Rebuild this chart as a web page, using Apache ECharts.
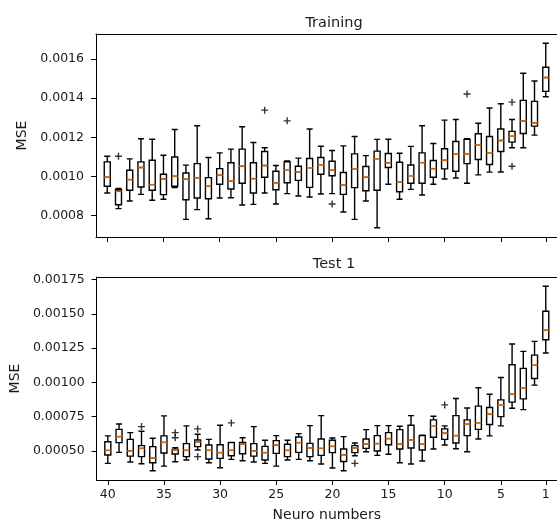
<!DOCTYPE html>
<html>
<head>
<meta charset="utf-8">
<script src="https://cdn.jsdelivr.net/npm/echarts@6/dist/echarts.min.js"></script>
<style>
  html, body { margin: 0; padding: 0; background: #fff; }
  #chart { width: 557px; height: 523px; }
</style>
</head>
<body>
<div id="chart"></div>
<script>
// Number of neurons per run, plotted from 40 down to 1
const neuronCounts = [40, 39, 38, 37, 36, 35, 34, 33, 32, 31, 30, 29, 28, 27, 26, 25, 24, 23, 22, 21,
                      20, 19, 18, 17, 16, 15, 14, 13, 12, 11, 10, 9, 8, 7, 6, 5, 4, 3, 2, 1];
const xTickLabels = [40, 35, 30, 25, 20, 15, 10, 5, 1];

// Training MSE: [low whisker, Q1, median, Q3, high whisker] for each neuron count
const trainBoxes = [
  [0.000914, 0.000949, 0.000995, 0.001074, 0.001103],
  [0.000834, 0.000854, 0.000923, 0.000931, 0.000937],
  [0.000873, 0.000928, 0.000983, 0.001031, 0.001089],
  [0.000907, 0.000945, 0.001045, 0.001074, 0.001192],
  [0.000877, 0.000928, 0.000957, 0.001082, 0.001190],
  [0.000882, 0.000906, 0.000986, 0.001010, 0.001108],
  [0.000942, 0.000949, 0.001000, 0.001099, 0.001240],
  [0.000779, 0.000880, 0.000985, 0.001017, 0.001057],
  [0.000829, 0.000889, 0.000991, 0.001065, 0.001259],
  [0.000782, 0.000885, 0.000949, 0.000993, 0.001096],
  [0.000889, 0.000959, 0.001005, 0.001039, 0.001120],
  [0.000890, 0.000935, 0.000976, 0.001069, 0.001139],
  [0.000853, 0.000964, 0.001051, 0.001139, 0.001254],
  [0.000856, 0.000914, 0.000988, 0.001069, 0.001173],
  [0.000914, 0.000995, 0.001055, 0.001127, 0.001146],
  [0.000858, 0.000931, 0.000967, 0.001026, 0.001055],
  [0.000911, 0.000967, 0.001033, 0.001074, 0.001079],
  [0.000899, 0.000979, 0.001022, 0.001051, 0.001093],
  [0.000894, 0.000943, 0.001043, 0.001091, 0.001242],
  [0.000909, 0.001010, 0.001057, 0.001096, 0.001154],
  [0.000911, 0.001003, 0.001031, 0.001077, 0.001132],
  [0.000817, 0.000907, 0.000954, 0.001019, 0.001156],
  [0.000779, 0.000942, 0.001038, 0.001115, 0.001204],
  [0.000873, 0.000926, 0.000995, 0.001050, 0.001106],
  [0.000736, 0.000928, 0.001089, 0.001129, 0.001189],
  [0.000959, 0.001045, 0.001069, 0.001117, 0.001190],
  [0.000882, 0.000921, 0.000971, 0.001072, 0.001118],
  [0.000933, 0.000964, 0.001002, 0.001058, 0.001153],
  [0.000904, 0.000964, 0.001070, 0.001120, 0.001259],
  [0.000959, 0.000995, 0.001039, 0.001081, 0.001168],
  [0.000986, 0.001038, 0.001082, 0.001141, 0.001288],
  [0.000991, 0.001026, 0.001113, 0.001178, 0.001291],
  [0.000964, 0.001065, 0.001113, 0.001189, 0.001192],
  [0.001007, 0.001086, 0.001161, 0.001218, 0.001272],
  [0.001021, 0.001060, 0.001120, 0.001204, 0.001350],
  [0.001022, 0.001127, 0.001183, 0.001242, 0.001372],
  [0.001146, 0.001175, 0.001206, 0.001230, 0.001291],
  [0.001146, 0.001219, 0.001283, 0.001389, 0.001528],
  [0.001211, 0.001257, 0.001274, 0.001384, 0.001488],
  [0.001408, 0.001435, 0.001506, 0.001559, 0.001682]
];
// Training outliers: [neuron count, MSE]
const trainOutliers = [
  [39, 0.001103], [26, 0.001339], [24, 0.001284], [20, 0.000858],
  [8, 0.001422], [4, 0.001380], [4, 0.001051]
];

// Test 1 MSE: [low whisker, Q1, median, Q3, high whisker] for each neuron count
const testBoxes = [
  [0.000410, 0.000471, 0.000505, 0.000568, 0.000610],
  [0.000490, 0.000561, 0.000605, 0.000658, 0.000697],
  [0.000420, 0.000463, 0.000500, 0.000585, 0.000634],
  [0.000407, 0.000459, 0.000519, 0.000539, 0.000644],
  [0.000356, 0.000415, 0.000449, 0.000532, 0.000593],
  [0.000390, 0.000485, 0.000563, 0.000610, 0.000756],
  [0.000422, 0.000478, 0.000507, 0.000512, 0.000524],
  [0.000434, 0.000459, 0.000505, 0.000554, 0.000683],
  [0.000507, 0.000532, 0.000568, 0.000580, 0.000622],
  [0.000415, 0.000442, 0.000505, 0.000544, 0.000585],
  [0.000378, 0.000446, 0.000488, 0.000546, 0.000688],
  [0.000439, 0.000466, 0.000505, 0.000561, 0.000563],
  [0.000429, 0.000480, 0.000551, 0.000563, 0.000597],
  [0.000420, 0.000463, 0.000500, 0.000554, 0.000678],
  [0.000410, 0.000434, 0.000488, 0.000534, 0.000578],
  [0.000390, 0.000483, 0.000544, 0.000576, 0.000612],
  [0.000434, 0.000459, 0.000505, 0.000549, 0.000578],
  [0.000439, 0.000490, 0.000561, 0.000602, 0.000627],
  [0.000429, 0.000459, 0.000522, 0.000556, 0.000685],
  [0.000405, 0.000468, 0.000519, 0.000588, 0.000758],
  [0.000376, 0.000488, 0.000534, 0.000578, 0.000595],
  [0.000356, 0.000424, 0.000473, 0.000515, 0.000605],
  [0.000466, 0.000488, 0.000522, 0.000539, 0.000558],
  [0.000495, 0.000519, 0.000551, 0.000588, 0.000656],
  [0.000468, 0.000500, 0.000554, 0.000612, 0.000685],
  [0.000476, 0.000546, 0.000590, 0.000634, 0.000685],
  [0.000415, 0.000515, 0.000549, 0.000656, 0.000680],
  [0.000405, 0.000522, 0.000580, 0.000688, 0.000758],
  [0.000427, 0.000507, 0.000549, 0.000612, 0.000615],
  [0.000515, 0.000600, 0.000683, 0.000727, 0.000753],
  [0.000544, 0.000585, 0.000629, 0.000661, 0.000683],
  [0.000517, 0.000558, 0.000612, 0.000758, 0.000883],
  [0.000495, 0.000612, 0.000695, 0.000727, 0.000814],
  [0.000588, 0.000658, 0.000705, 0.000827, 0.000961],
  [0.000610, 0.000693, 0.000768, 0.000817, 0.000914],
  [0.000683, 0.000751, 0.000836, 0.000873, 0.001036],
  [0.000812, 0.000856, 0.000914, 0.001129, 0.001280],
  [0.000802, 0.000880, 0.000958, 0.001102, 0.001226],
  [0.000980, 0.001029, 0.001126, 0.001199, 0.001299],
  [0.001214, 0.001311, 0.001380, 0.001519, 0.001701]
];
// Test 1 outliers: [neuron count, MSE]
const testOutliers = [
  [37, 0.000678], [34, 0.000634], [34, 0.000597], [32, 0.000661],
  [32, 0.000459], [29, 0.000705], [18, 0.000410], [10, 0.000836]
];

const trainYTicks = [0.0008, 0.0010, 0.0012, 0.0014, 0.0016];
const testYTicks = [0.0005, 0.00075, 0.0010, 0.00125, 0.0015, 0.00175];

// One empty slot on each side of the neuron range keeps a margin at both ends
const categories = ['41'].concat(neuronCounts.map(String), ['0']);
const EMPTY = ['-', '-', '-', '-', '-'];

function boxSeriesData(boxes) {
  return [EMPTY].concat(boxes, [EMPTY]);
}
function medianData(boxes) {
  return neuronCounts.map((n, i) => [String(n), boxes[i][2]]);
}
function outlierData(list) {
  return list.map(([n, v]) => [String(n), v]);
}
// 5% padding around all whiskers and outliers
function paddedExtent(boxes, outliers) {
  const vals = boxes.flat().concat(outliers.map(o => o[1]));
  const lo = Math.min(...vals), hi = Math.max(...vals);
  const pad = (hi - lo) * 0.05;
  return [lo - pad, hi + pad];
}

const FONT = 'DejaVu Sans';
const TEXT = '#1a1a1a';
const plusSymbol = 'path://M4,0h2v10h-2z M0,4h10v2h-10z';
const isTickCategory = (i, v) => v !== '0' && v !== '41' && xTickLabels.includes(Number(v));

function xAxisFor(gridIndex, withLabels) {
  return {
    type: 'category', gridIndex, data: categories, boundaryGap: false,
    axisLine: { show: true, lineStyle: { color: '#000', width: 1 } },
    axisTick: { show: true, length: 5, lineStyle: { color: '#000', width: 1 }, interval: isTickCategory },
    axisLabel: {
      show: withLabels, margin: 8, color: TEXT, fontFamily: FONT, fontSize: 12.5,
      interval: isTickCategory
    },
    splitLine: { show: false },
    name: withLabels ? 'Neuro numbers' : '',
    nameLocation: 'middle', nameGap: 28,
    nameTextStyle: { color: TEXT, fontFamily: FONT, fontSize: 14 }
  };
}
function topSpine(gridIndex) {
  return {
    type: 'category', gridIndex, position: 'top', data: categories, boundaryGap: false,
    axisLine: { show: true, lineStyle: { color: '#000', width: 1 } },
    axisTick: { show: false }, axisLabel: { show: false }, splitLine: { show: false }
  };
}
function yAxisFor(gridIndex, extent, ticks, digits, gap) {
  return {
    type: 'value', gridIndex, min: extent[0], max: extent[1],
    axisLine: { show: true, lineStyle: { color: '#000', width: 1 } },
    axisTick: { show: true, length: 5, customValues: ticks, lineStyle: { color: '#000', width: 1 } },
    axisLabel: {
      customValues: ticks, margin: 12, color: TEXT, fontFamily: FONT, fontSize: 12.5,
      formatter: v => Number(v).toFixed(digits)
    },
    splitLine: { show: false },
    name: 'MSE', nameLocation: 'middle', nameGap: gap, nameRotate: 90,
    nameTextStyle: { color: TEXT, fontFamily: FONT, fontSize: 14 }
  };
}
function panelSeries(xIdx, yIdx, boxes, outliers) {
  return [
    {
      type: 'boxplot', xAxisIndex: xIdx, yAxisIndex: yIdx,
      data: boxSeriesData(boxes), boxWidth: [6, 6], silent: true,
      itemStyle: { color: '#fff', borderColor: '#000', borderWidth: 1.4 },
      emphasis: { disabled: true }
    },
    {
      type: 'scatter', xAxisIndex: xIdx, yAxisIndex: yIdx, z: 5,
      data: medianData(boxes), symbol: 'rect', symbolSize: [6, 1.8], silent: true,
      itemStyle: { color: '#ff7f0e' }
    },
    {
      type: 'scatter', xAxisIndex: xIdx, yAxisIndex: yIdx, z: 5,
      data: outlierData(outliers), symbol: plusSymbol, symbolSize: 7, silent: true,
      itemStyle: { color: '#000' }
    }
  ];
}

const chart = echarts.init(document.getElementById('chart'), null, { renderer: 'canvas' });
chart.setOption({
  animation: false,
  backgroundColor: '#fff',
  title: [
    { text: 'Training', left: 329, top: 11, textAlign: 'center',
      textStyle: { color: TEXT, fontFamily: FONT, fontSize: 14.5, fontWeight: 'normal' } },
    { text: 'Test 1', left: 329, top: 252, textAlign: 'center',
      textStyle: { color: TEXT, fontFamily: FONT, fontSize: 14.5, fontWeight: 'normal' } }
  ],
  grid: [
    { left: 96, top: 34, width: 467, height: 203 },
    { left: 96, top: 277, width: 467, height: 203 }
  ],
  xAxis: [xAxisFor(0, false), xAxisFor(1, true), topSpine(0), topSpine(1)],
  yAxis: [
    yAxisFor(0, paddedExtent(trainBoxes, trainOutliers), trainYTicks, 4, 59),
    yAxisFor(1, paddedExtent(testBoxes, testOutliers), testYTicks, 5, 66)
  ],
  series: [].concat(
    panelSeries(0, 0, trainBoxes, trainOutliers),
    panelSeries(1, 1, testBoxes, testOutliers)
  )
});
</script>
</body>
</html>
